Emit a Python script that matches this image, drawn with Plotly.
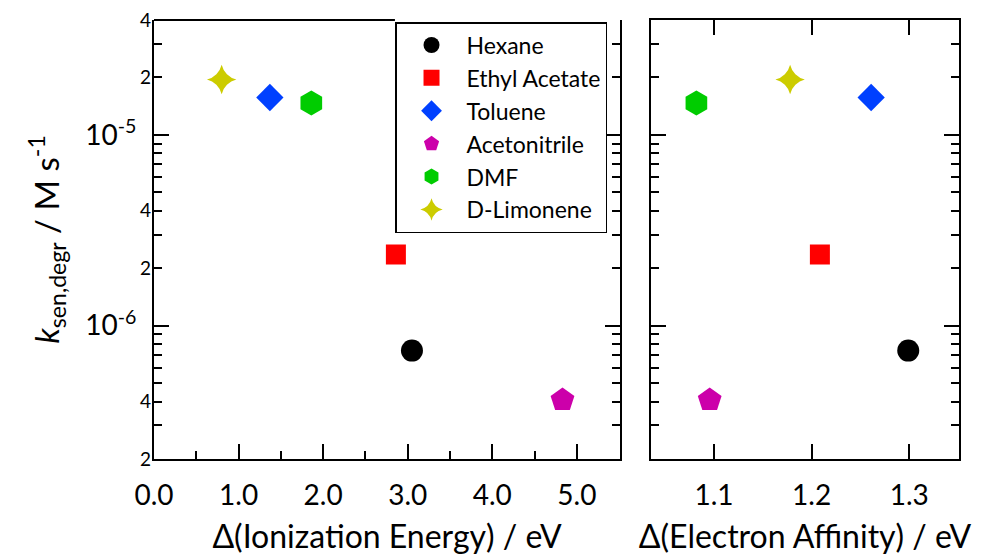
import plotly.graph_objects as go
import numpy as np

solvents = ["Hexane", "Ethyl Acetate", "Toluene", "Acetonitrile", "DMF", "D-Limonene"]
delta_ie = [3.05, 2.86, 1.37, 4.83, 1.86, 0.80]
delta_ea = [1.299, 1.2085, 1.261, 1.0956, 1.082, 1.178]
k_degr = [7.4e-7, 2.36e-6, 1.57e-5, 4.08e-7, 1.47e-5, 1.95e-5]
colors = ["#000000", "#ff0000", "#0040ff", "#cc00aa", "#00cc00", "#cccc00"]
symbols = ["circle", "square", "diamond", "pentagon", "hexagon", "star-diamond"]
sizes = [22, 20, 21, 25, 25, 21]

decade_vals = [1e-6, 1e-5]
decade_text = ["10<sup>-6</sup>", "10<sup>-5</sup>"]
small_vals = [2e-7, 4e-7, 2e-6, 4e-6, 2e-5, 4e-5]
small_text = ["2", "4", "2", "4", "2", "4"]
minor_vals = [m * 10.0 ** e for e in (-7, -6, -5) for m in range(2, 10) if 2e-7 <= m * 10.0 ** e <= 4e-5]

FONT = "Lato"
fig = go.Figure()
for i, name in enumerate(solvents):
    mk = dict(color=colors[i], symbol=symbols[i], size=sizes[i], line=dict(width=0))
    fig.add_trace(go.Scatter(x=[delta_ie[i]], y=[k_degr[i]], mode="markers", name=name,
                             marker=mk, xaxis="x", yaxis="y"))
    fig.add_trace(go.Scatter(x=[delta_ea[i]], y=[k_degr[i]], mode="markers", name=name,
                             marker=mk, xaxis="x2", yaxis="y2", showlegend=False))
# carrier trace for the overlay axis that holds the small "2"/"4" labels
fig.add_trace(go.Scatter(x=[None], y=[None], mode="markers", xaxis="x", yaxis="y3",
                         showlegend=False, hoverinfo="skip"))

yrange = [np.log10(2e-7), np.log10(4e-5)]
axis_common = dict(showgrid=False, zeroline=False, showline=True, linecolor="black", linewidth=2,
                   ticks="inside", tickcolor="black", tickwidth=2, automargin=False,
                   tickfont=dict(family=FONT, size=28, color="black"))

yax = dict(axis_common, type="log", range=yrange, tickmode="array", tickvals=decade_vals,
           ticktext=decade_text, ticklen=15, mirror="allticks",
           tickfont=dict(family=FONT, size=28, color="black"), ticklabelstandoff=10,
           minor=dict(tickmode="array", tickvals=minor_vals, ticklen=8, tickwidth=2,
                      tickcolor="black", ticks="inside", showgrid=False))

fig.update_layout(
    width=989, height=555,
    margin=dict(l=154, r=30, t=20, b=96),
    plot_bgcolor="white", paper_bgcolor="white",
    font=dict(family=FONT, color="black"),
    xaxis=dict(axis_common, domain=[0, 0.5789], range=[0, 5.51], tickmode="linear", tick0=0, dtick=1,
               tickformat=".1f", ticklen=15, mirror=False, ticklabelstandoff=10,
               minor=dict(dtick=0.5, ticklen=8, tickwidth=2, tickcolor="black", ticks="inside"),
               title=dict(text="Δ(Ionization Energy) / eV", font=dict(family=FONT, size=32), standoff=16),
               anchor="y"),
    yaxis=dict(yax, domain=[0, 1], anchor="x",
               title=dict(text="<i>k</i><sub>sen,degr</sub> / M s<sup>-1</sup>",
                          font=dict(family=FONT, size=33), standoff=16)),
    yaxis3=dict(type="log", range=yrange, overlaying="y", anchor="x", side="left",
                tickmode="array", tickvals=small_vals, ticktext=small_text, ticks="",
                showline=False, showgrid=False, zeroline=False, showticklabels=True, automargin=False,
                tickfont=dict(family=FONT, size=19, color="black"), ticklabelstandoff=2),
    xaxis2=dict(axis_common, domain=[0.6174, 1], range=[1.0355, 1.351], tickmode="array",
                tickvals=[1.1, 1.2, 1.3], ticktext=["1.1", "1.2", "1.3"], ticklen=15,
                mirror="allticks", ticklabelstandoff=10,
                title=dict(text="Δ(Electron Affinity) / eV", font=dict(family=FONT, size=32), standoff=16),
                anchor="y2"),
    yaxis2=dict(yax, domain=[0, 1], anchor="x2", showticklabels=False),
    legend=dict(x=0.2994, y=0.9954, xanchor="left", yanchor="top", bgcolor="white",
                bordercolor="black", borderwidth=1.5, font=dict(family=FONT, size=23, color="black"),
                itemwidth=60, tracegroupgap=0),
    showlegend=True,
    shapes=[dict(type="line", xref="x domain", yref="y domain", x0=0, x1=0.517, y0=1, y1=1,
                 line=dict(color="black", width=2))],
)
fig.write_html("out.html")
